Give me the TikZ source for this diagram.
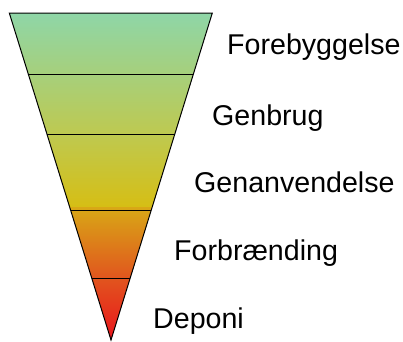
\documentclass[tikz,border=0pt]{standalone}
\usepackage{fontspec}
\setmainfont{Liberation Sans}
\usetikzlibrary{calc}
\definecolor{cA}{RGB}{142,214,168}
\definecolor{cB}{RGB}{190,201,80}
\definecolor{cC}{RGB}{214,190,20}
\definecolor{cD}{RGB}{216,168,22}
\definecolor{cE}{RGB}{225,85,30}
\definecolor{cF}{RGB}{234,18,28}
\tikzset{
  lbl/.style={anchor=base west, inner sep=0pt, font=\fontsize{28.6}{32}\selectfont, text=black},
  divider/.style={draw=black, line width=0.8pt},
  outline/.style={draw=black, line width=1pt, line join=miter}
}
\begin{document}
\begin{tikzpicture}[x=1pt,y=-1pt]
\useasboundingbox (0,0) rectangle (403,341);
\coordinate (tl) at (9.3,13);
\coordinate (tr) at (212.3,13);
\coordinate (ap) at (111,340);
% gradient fill
\begin{scope}
\clip (tl) -- (tr) -- (ap) -- cycle;
\shade[top color=cA, bottom color=cB] (0,12) rectangle (220,134.5);
\shade[top color=cB, bottom color=cC] (0,134) rectangle (220,207.5);
\shade[top color=cD, bottom color=cE] (0,207) rectangle (220,278.5);
\shade[top color=cE, bottom color=cF] (0,278) rectangle (220,342);
\end{scope}
% dividers
\foreach \n/\y in {1/74,2/134.5,3/210,4/278.5}{
  \pgfmathsetmacro{\t}{(\y-13)/327}
  \coordinate (l\n) at ($(tl)!\t!(ap)$);
  \coordinate (r\n) at ($(tr)!\t!(ap)$);
  \draw[divider] (l\n) -- (r\n);
}
\draw[outline] (tl) -- (tr) -- (ap) -- cycle;
% labels
\node[lbl] (t1) at (227,54.3) {Forebyggelse};
\node[lbl] (t2) at (212,125.3) {Genbrug};
\node[lbl] (t3) at (194,192.5) {Genanvendelse};
\node[lbl] (t4) at (174,260) {Forbrænding};
\node[lbl] (t5) at (153,328.3) {Deponi};
\end{tikzpicture}
\end{document}
